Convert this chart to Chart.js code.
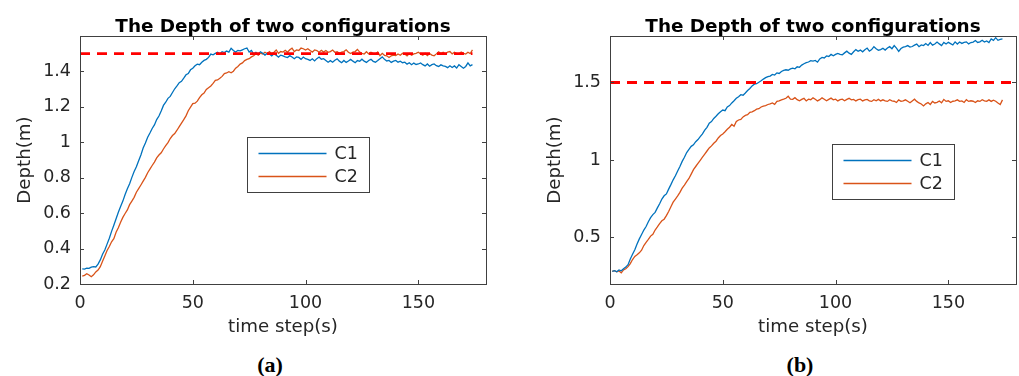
<!DOCTYPE html>
<html>
<head>
<meta charset="utf-8">
<script src="https://cdn.jsdelivr.net/npm/chart.js@4.4.1/dist/chart.umd.min.js"></script>
<style>
  html, body { margin: 0; padding: 0; background: #fff; width: 1019px; height: 376px; overflow: hidden; }
  canvas { position: absolute; top: 0; }
  #chartA { left: 0; }
  #chartB { left: 530px; }
  .tag { position: absolute; top: 352px; font: bold 22px "Liberation Serif", serif; color: #000; transform: translateX(-50%); }
</style>
</head>
<body>
<canvas id="chartA" width="505" height="340"></canvas>
<canvas id="chartB" width="489" height="340"></canvas>
<div class="tag" style="left:270px">(a)</div>
<div class="tag" style="left:800px">(b)</div>
<script>
// time steps 1..174
const steps = Array.from({ length: 174 }, (_, i) => i + 1);

const xTicks = [0, 50, 100, 150];
const yTicksA = [0.2, 0.4, 0.6, 0.8, 1, 1.2, 1.4];
const yTicksB = [0.5, 1, 1.5];

const refDepth = 1.5;
const refSpanA = [0, 174];
const refSpanB = [0, 180];

// configuration (a)
const depthC1a = [
  0.285, 0.284, 0.289, 0.288, 0.295, 0.298, 0.296, 0.312, 0.336, 0.368,
  0.392, 0.425, 0.458, 0.497, 0.532, 0.568, 0.605, 0.637, 0.668, 0.705,
  0.738, 0.766, 0.802, 0.835, 0.862, 0.896, 0.928, 0.968, 0.996, 1.028,
  1.052, 1.078, 1.098, 1.128, 1.148, 1.176, 1.208, 1.226, 1.248, 1.259,
  1.281, 1.302, 1.318, 1.336, 1.344, 1.362, 1.381, 1.388, 1.409, 1.418,
  1.432, 1.441, 1.438, 1.452, 1.462, 1.468, 1.479, 1.498, 1.494, 1.502,
  1.508, 1.498, 1.511, 1.506, 1.515, 1.509, 1.531, 1.518, 1.509, 1.519,
  1.516, 1.522, 1.528, 1.532, 1.509, 1.518, 1.498, 1.508, 1.497, 1.511,
  1.502, 1.492, 1.501, 1.498, 1.488, 1.499, 1.491, 1.481, 1.492, 1.488,
  1.482, 1.478, 1.489, 1.481, 1.472, 1.482, 1.479, 1.468, 1.481, 1.472,
  1.468, 1.462, 1.471, 1.459, 1.472, 1.481, 1.469, 1.472, 1.462, 1.452,
  1.461, 1.452, 1.463, 1.471, 1.458, 1.449, 1.462, 1.451, 1.459, 1.468,
  1.458, 1.449, 1.461, 1.457, 1.469, 1.458, 1.451, 1.462, 1.468, 1.457,
  1.452, 1.461, 1.472, 1.482, 1.468, 1.459, 1.462, 1.451, 1.458, 1.462,
  1.452, 1.458, 1.449, 1.452, 1.441, 1.449, 1.438, 1.447, 1.439, 1.442,
  1.448, 1.438, 1.431, 1.442, 1.429, 1.438, 1.442, 1.432, 1.428, 1.437,
  1.431, 1.428, 1.421, 1.432, 1.422, 1.431, 1.419, 1.438, 1.428, 1.418,
  1.428, 1.448, 1.431, 1.438
];
const depthC2a = [
  0.245, 0.249, 0.258, 0.251, 0.241, 0.252, 0.268, 0.279, 0.298, 0.328,
  0.358, 0.389, 0.412, 0.438, 0.456, 0.492, 0.518, 0.548, 0.576, 0.598,
  0.618, 0.648, 0.668, 0.689, 0.718, 0.738, 0.759, 0.781, 0.802, 0.828,
  0.848, 0.869, 0.888, 0.912, 0.928, 0.941, 0.962, 0.981, 0.998, 1.021,
  1.038, 1.049, 1.068, 1.088, 1.108, 1.128, 1.149, 1.178, 1.198, 1.218,
  1.221, 1.232, 1.252, 1.268, 1.278, 1.298, 1.308, 1.318, 1.332, 1.349,
  1.352, 1.361, 1.372, 1.388, 1.391, 1.398, 1.392, 1.401, 1.418, 1.428,
  1.441, 1.448, 1.461, 1.468, 1.472, 1.482, 1.488, 1.501, 1.492, 1.503,
  1.498, 1.508, 1.501, 1.512, 1.499, 1.508, 1.521, 1.502, 1.512, 1.509,
  1.519, 1.508, 1.522, 1.531, 1.512, 1.521, 1.518, 1.532, 1.528, 1.521,
  1.528, 1.518, 1.509, 1.521, 1.518, 1.508, 1.519, 1.509, 1.518, 1.508,
  1.512, 1.521, 1.508, 1.511, 1.502, 1.509, 1.512, 1.522, 1.508, 1.501,
  1.509, 1.512, 1.524, 1.509, 1.502, 1.498, 1.511, 1.499, 1.508, 1.501,
  1.498, 1.509, 1.489, 1.502, 1.491, 1.488, 1.479, 1.488, 1.492, 1.489,
  1.498, 1.491, 1.502, 1.498, 1.488, 1.501, 1.492, 1.499, 1.502, 1.508,
  1.499, 1.491, 1.502, 1.489, 1.501, 1.492, 1.488, 1.499, 1.511, 1.501,
  1.508, 1.498, 1.509, 1.512, 1.499, 1.508, 1.501, 1.498, 1.509, 1.502,
  1.498, 1.508, 1.501, 1.522
];

// configuration (b)
const depthC1b = [
  0.282, 0.286, 0.279, 0.291, 0.285, 0.298, 0.309, 0.325, 0.362, 0.392,
  0.421, 0.458, 0.491, 0.519, 0.548, 0.571, 0.602, 0.628, 0.648, 0.662,
  0.691, 0.718, 0.748, 0.769, 0.781, 0.812, 0.841, 0.872, 0.898, 0.929,
  0.958, 0.991, 1.018, 1.048, 1.069, 1.088, 1.098, 1.118, 1.132, 1.151,
  1.168, 1.192, 1.211, 1.238, 1.248, 1.268, 1.282, 1.298, 1.311, 1.322,
  1.318, 1.342, 1.351, 1.368, 1.382, 1.398, 1.408, 1.421, 1.418, 1.432,
  1.448, 1.461, 1.478, 1.489, 1.492, 1.502, 1.511, 1.522, 1.531, 1.538,
  1.541, 1.552, 1.548, 1.562, 1.558, 1.571, 1.578, 1.582, 1.579, 1.588,
  1.592, 1.588, 1.601, 1.598, 1.612, 1.621, 1.628, 1.632, 1.641, 1.638,
  1.642, 1.631, 1.652, 1.662, 1.658, 1.671, 1.668, 1.681, 1.672, 1.681,
  1.688, 1.682, 1.679, 1.691, 1.702, 1.689, 1.681, 1.698, 1.712, 1.701,
  1.709, 1.698, 1.711, 1.722, 1.702, 1.712, 1.731, 1.718, 1.708, 1.712,
  1.721, 1.709, 1.722, 1.731, 1.718, 1.738, 1.722, 1.701, 1.719, 1.728,
  1.731, 1.738, 1.728, 1.732, 1.741, 1.748, 1.731, 1.742, 1.738, 1.751,
  1.739, 1.758, 1.741, 1.748, 1.761, 1.749, 1.738, 1.758, 1.748, 1.759,
  1.751, 1.742, 1.762, 1.748, 1.761, 1.752, 1.758, 1.762, 1.749, 1.758,
  1.761, 1.771, 1.758, 1.762, 1.772, 1.761, 1.768, 1.758, 1.781, 1.772,
  1.789, 1.772, 1.778, 1.781
];
const depthC2b = [
  0.281, 0.286, 0.279, 0.284, 0.272, 0.291, 0.298, 0.312, 0.332, 0.358,
  0.378, 0.388, 0.401, 0.418, 0.448, 0.468, 0.488, 0.509, 0.521, 0.548,
  0.568, 0.589, 0.608, 0.618, 0.641, 0.668, 0.698, 0.728, 0.748, 0.768,
  0.791, 0.818, 0.838, 0.861, 0.881, 0.909, 0.938, 0.958, 0.978, 0.998,
  1.018, 1.038, 1.058, 1.078, 1.091, 1.108, 1.121, 1.142, 1.158, 1.168,
  1.182, 1.198, 1.211, 1.229, 1.218, 1.248, 1.258, 1.262, 1.278, 1.288,
  1.292, 1.308, 1.311, 1.318, 1.328, 1.331, 1.342, 1.348, 1.351, 1.358,
  1.362, 1.368, 1.359, 1.378, 1.381, 1.388, 1.392, 1.398, 1.411, 1.392,
  1.391, 1.402, 1.389, 1.382, 1.391, 1.398, 1.381, 1.392, 1.389, 1.401,
  1.392, 1.381, 1.389, 1.401, 1.392, 1.382, 1.391, 1.399, 1.388, 1.392,
  1.381, 1.389, 1.392, 1.382, 1.391, 1.398, 1.388, 1.391, 1.381, 1.389,
  1.392, 1.381, 1.388, 1.391, 1.382, 1.378, 1.389, 1.382, 1.391, 1.381,
  1.388, 1.381, 1.378, 1.389, 1.382, 1.379, 1.371, 1.388, 1.378, 1.381,
  1.388, 1.379, 1.369, 1.381, 1.392, 1.378, 1.368, 1.361, 1.349, 1.362,
  1.371, 1.358, 1.378, 1.368, 1.372, 1.381, 1.369, 1.391, 1.378, 1.382,
  1.371, 1.379, 1.382, 1.388, 1.378, 1.381, 1.371, 1.389, 1.378, 1.382,
  1.379, 1.371, 1.382, 1.378, 1.389, 1.381, 1.379, 1.388, 1.378, 1.386,
  1.379, 1.368, 1.358, 1.388
];

const BLUE = '#0072BD';
const ORANGE = '#D95319';
const AXIS = '#404040';
const TEXT = '#262626';
const FONT = '"DejaVu Sans", sans-serif';

// box around the axes with inward ticks on all four sides
const axesBox = {
  id: 'axesBox',
  afterDatasetsDraw(chart) {
    const { ctx, chartArea: a, scales: { x, y } } = chart;
    ctx.save();
    ctx.strokeStyle = AXIS;
    ctx.lineWidth = 1;
    ctx.beginPath();
    x.ticks.forEach(t => {
      const px = Math.round(x.getPixelForValue(t.value)) + 0.5;
      ctx.moveTo(px, a.bottom); ctx.lineTo(px, a.bottom - 4);
      ctx.moveTo(px, a.top); ctx.lineTo(px, a.top + 4);
    });
    y.ticks.forEach(t => {
      const py = Math.round(y.getPixelForValue(t.value)) + 0.5;
      ctx.moveTo(a.left, py); ctx.lineTo(a.left + 4, py);
      ctx.moveTo(a.right, py); ctx.lineTo(a.right - 4, py);
    });
    ctx.stroke();
    ctx.strokeRect(Math.round(a.left) + 0.5, Math.round(a.top) + 0.5,
      Math.round(a.right - a.left), Math.round(a.bottom - a.top));
    ctx.restore();
  }
};

// legend box inside the axes
const boxLegend = {
  id: 'boxLegend',
  afterDraw(chart, args, opts) {
    const { ctx, chartArea: a } = chart;
    const bx = Math.round(a.left + opts.x) + 0.5;
    const by = Math.round(a.top + opts.y) + 0.5;
    ctx.save();
    ctx.fillStyle = '#fff';
    ctx.fillRect(bx, by, opts.w, opts.h);
    ctx.strokeStyle = AXIS;
    ctx.lineWidth = 1;
    ctx.strokeRect(bx, by, opts.w, opts.h);
    ctx.font = '17.5px ' + FONT;
    ctx.textBaseline = 'middle';
    chart.data.datasets.filter(d => d.showInLegend).forEach((d, i) => {
      const ly = by + 16 + i * 23;
      ctx.strokeStyle = d.borderColor;
      ctx.lineWidth = 1.3;
      ctx.beginPath();
      ctx.moveTo(bx + 11, ly);
      ctx.lineTo(bx + 79, ly);
      ctx.stroke();
      ctx.fillStyle = TEXT;
      ctx.fillText(d.label, bx + 87, ly + 1);
    });
    ctx.restore();
  }
};

function series(values) {
  return steps.map((t, i) => ({ x: t, y: values[i] }));
}

function makeChart(id, c1, c2, yMin, yMax, yTicks, refSpan, legendPos, rightPad) {
  new Chart(document.getElementById(id), {
    type: 'line',
    data: {
      datasets: [
        {
          label: 'ref',
          data: refSpan.map(x => ({ x, y: refDepth })),
          borderColor: '#ff0000',
          borderWidth: 2.8,
          borderDash: [10, 7],
          pointRadius: 0,
          order: -1
        },
        { label: 'C1', data: series(c1), borderColor: BLUE, borderWidth: 1.3, pointRadius: 0, tension: 0, showInLegend: true },
        { label: 'C2', data: series(c2), borderColor: ORANGE, borderWidth: 1.3, pointRadius: 0, tension: 0, showInLegend: true }
      ]
    },
    options: {
      responsive: false,
      animation: false,
      layout: { padding: { left: 0, right: rightPad, top: 0, bottom: 0 } },
      plugins: {
        legend: { display: false },
        tooltip: { enabled: false },
        title: {
          display: true,
          text: 'The Depth of two configurations',
          fullSize: false,
          color: '#000',
          font: { family: FONT, size: 18.4, weight: 'bold', lineHeight: 1.2 },
          padding: { top: 16.5, bottom: -2.6 }
        },
        boxLegend: legendPos
      },
      scales: {
        x: {
          type: 'linear',
          min: 0,
          max: 180,
          afterBuildTicks: s => { s.ticks = xTicks.map(v => ({ value: v })); },
          afterFit: s => { s.height = 56; },
          grid: { display: false, drawTicks: false },
          border: { display: false },
          ticks: { color: TEXT, padding: 9, font: { family: FONT, size: 17.5 }, maxRotation: 0 },
          title: {
            display: true,
            text: 'time step(s)',
            color: TEXT,
            font: { family: FONT, size: 18.2, lineHeight: 1.2 },
            padding: { top: 0, bottom: 2 }
          }
        },
        y: {
          min: yMin,
          max: yMax,
          afterBuildTicks: s => { s.ticks = yTicks.map(v => ({ value: v })); },
          afterFit: s => { s.width = 80; },
          grid: { display: false, drawTicks: false },
          border: { display: false },
          ticks: { color: TEXT, padding: 9, font: { family: FONT, size: 17.5 }, callback: v => String(v) },
          title: {
            display: true,
            text: 'Depth(m)',
            color: TEXT,
            font: { family: FONT, size: 18.2, lineHeight: 1.2 },
            padding: { top: 14, bottom: 0 }
          }
        }
      }
    },
    plugins: [axesBox, boxLegend]
  });
}

makeChart('chartA', depthC1a, depthC2a, 0.2, 1.6, yTicksA, refSpanA,
  { x: 167, y: 101, w: 122, h: 55 }, 19);
makeChart('chartB', depthC1b, depthC2b, 0.2, 1.8, yTicksB, refSpanB,
  { x: 222, y: 108, w: 122, h: 55 }, 3);
</script>
</body>
</html>
